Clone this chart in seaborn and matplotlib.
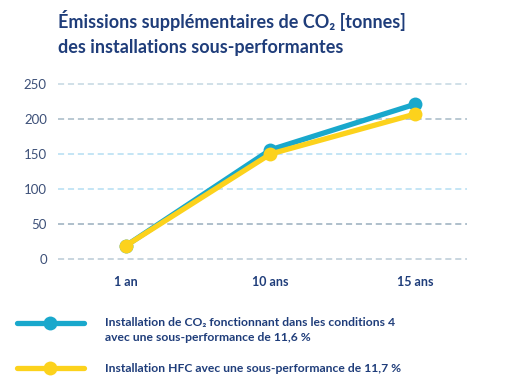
import pandas as pd
import matplotlib.pyplot as plt
import seaborn as sns
from matplotlib.lines import Line2D

# Data
periodes = ['1 an', '10 ans', '15 ans']
co2_values = [19, 156, 221]
hfc_values = [19, 150, 207]
series_labels = [
    'Installation de CO\u2082 fonctionnant dans les conditions 4\navec une sous-performance de 11,6 %',
    'Installation HFC avec une sous-performance de 11,7 %',
]
y_ticks = [0, 50, 100, 150, 200, 250]

# Styling
NAVY = '#1f3d7a'
TICK_GREY = '#3d5078'
COLORS = ['#19a8cc', '#fcd21c']
GRID_COLORS = ['#b9cad6', '#98adbd', '#b4def2', '#b4def2', '#a6b9c6', '#c3d7e2']

sns.set_theme(style='white')
plt.rcParams['font.family'] = ['Lato', 'DejaVu Sans']

df = pd.DataFrame({
    'periode': periodes * 2,
    'emissions': co2_values + hfc_values,
    'installation': [series_labels[0]] * 3 + [series_labels[1]] * 3,
})

fig = plt.figure(figsize=(5.18, 3.86), dpi=100)
ax = fig.add_axes([58 / 518, 0.3073, (467 - 58) / 518, 0.4969])

# Dashed horizontal grid lines
for val, col in zip(y_ticks, GRID_COLORS):
    ax.axhline(val, color=col, lw=1.1, dashes=(4, 2.5), zorder=0)

sns.lineplot(data=df, x='periode', y='emissions', hue='installation',
             hue_order=series_labels, palette=COLORS, marker='o',
             markersize=10, markeredgewidth=0, linewidth=3.8,
             sort=False, legend=False, ax=ax, zorder=3)

ax.set_xlim(-0.47, 2.36)
ax.set_ylim(-12, 262)
ax.set_yticks(y_ticks)
ax.set_xlabel('')
ax.set_ylabel('')
sns.despine(ax=ax, left=True, bottom=True)
ax.tick_params(axis='y', length=0, pad=8, labelsize=9.5, labelcolor=TICK_GREY)
ax.tick_params(axis='x', length=0, pad=6, labelsize=9)
for lab in ax.get_xticklabels():
    lab.set_fontweight('bold')
    lab.set_color(NAVY)

# Title
fig.text(58 / 518, 1 - 33 / 386,
         'Émissions supplémentaires de CO\u2082 [tonnes]\ndes installations sous-performantes',
         ha='left', va='center', fontsize=13, fontweight='bold', color=NAVY,
         linespacing=1.55)

# Legend drawn by hand below the chart
legend_rows = [(1 - 323 / 386, 1 - 330 / 386), (1 - 368 / 386, 1 - 368 / 386)]
for (y_line, y_text), col, lab in zip(legend_rows, COLORS, series_labels):
    fig.add_artist(Line2D([17 / 518, 84 / 518], [y_line, y_line], color=col,
                          lw=3.8, solid_capstyle='round', transform=fig.transFigure))
    fig.add_artist(Line2D([50 / 518], [y_line], color=col, marker='o',
                          markersize=10, markeredgewidth=0, transform=fig.transFigure))
    fig.text(105 / 518, y_text, lab, ha='left', va='center', fontsize=8.7,
             fontweight='bold', color=NAVY, linespacing=1.35)

fig.savefig('out.png', dpi=100, facecolor='white')
